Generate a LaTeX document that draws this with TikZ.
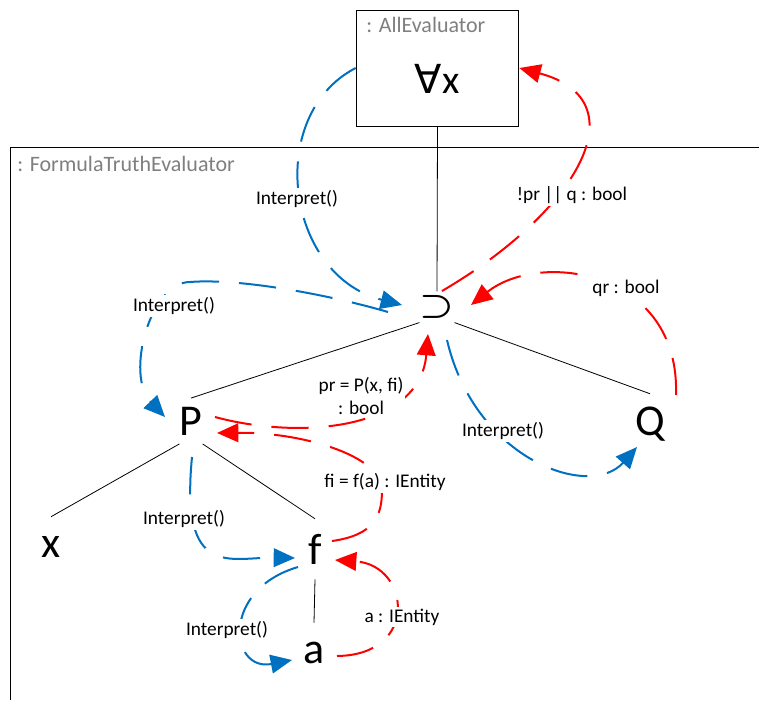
\documentclass[tikz,border=0pt]{standalone}
\usepackage{fontspec}
\setmainfont{Carlito}
\newfontfamily\symfont{DejaVu Sans}
\usetikzlibrary{arrows.meta,calc}
\definecolor{callblue}{RGB}{0,112,192}
\definecolor{objgray}{RGB}{127,127,127}

\begin{document}
\begin{tikzpicture}[x=0.75pt,y=-0.75pt,
    ltr/.style={inner sep=0pt, minimum width=10.5pt, minimum height=45pt, font=\fontsize{33}{33}\selectfont},
    lbl/.style={fill=white, inner sep=1.5pt, align=center, font=\fontsize{14.5}{17}\selectfont},
    obj/.style={text=objgray, inner sep=0pt, anchor=base west, font=\fontsize{16.5}{20}\selectfont},
    tree/.style={line width=0.6pt},
    call/.style={callblue, line width=1.5pt, dash pattern=on 28pt off 15pt, -{Triangle[length=16pt,width=14pt]}},
    ret/.style={call, red}]
    \useasboundingbox (0,0) rectangle (759,700);

    % the two objects
    \draw[tree] (759,147) -- (10,147) -- (10,700);
    \node[obj] (fte) at (17,171) {: FormulaTruthEvaluator};
    \node[draw, line width=0.75pt, inner sep=0pt, minimum width=122pt, minimum height=87pt] (ae) at (437.5,68) {};
    \node[obj] (aename) at (366,32) {: AllEvaluator};
    \node[font=\fontsize{30}{30}\selectfont, inner sep=0pt] (forall) at (437,79) {{\symfont ∀}x};

    % the formula
    \node[ltr, minimum width=15.75pt, minimum height=23pt] (sup) at (437,307) {\resizebox{26pt}{15pt}{\boldmath$\supset$}};
    \node[ltr, minimum height=34pt] (P) at (191,421) {P};
    \node[ltr] (Q) at (650,424) {Q};
    \node[ltr] (x) at (51,547) {x};
    \node[ltr] (f) at (315,549) {f};
    \node[ltr] (a) at (314,653) {a};

    % the tree
    \draw[tree] (ae.south) -- (sup.north);
    \draw[tree] (sup.south west) -- (P.north)
                (sup.south east) -- (Q.north)
                (P.south west) -- (x.north)
                (P.south east) -- (f.north)
                (f.south) -- (a.north);

    % calls
    \draw[call] (ae.west) .. controls (265,115) and (285,275) .. ($(sup)+(-35,-2)$);
    \draw[call] ($(sup)+(-49,5)$) .. controls (330,295) and (240,278) .. (190,282)
                .. controls (150,282) and (125,375) .. ($(P)+(-26,-4)$);
    \draw[call] ($(sup)+(10,33)$) .. controls (475,460) and (590,500) .. ($(Q)+(-13,23)$);
    \draw[call] ($(P)+(1,36)$) .. controls (180,580) and (230,557) .. ($(f)+(-20,9)$);
    \draw[call] ($(f)+(-17,18)$) .. controls (220,590) and (230,672) .. ($(a)+(-22,7)$);

    % returns
    \draw[ret] ($(sup)+(5,-16)$) .. controls (580,210) and (640,100) .. (ae.east);
    \draw[ret] ($(Q)+(26,-29)$) .. controls (680,270) and (540,250) .. ($(sup)+(34,-2)$);
    \draw[ret] ($(P)+(24,-4)$) .. controls (300,440) and (420,430) .. ($(sup)+(-9,27)$);
    \draw[ret] ($(f)+(17,-8)$) .. controls (375,535) and (382,515) .. (382,490)
               .. controls (382,455) and (300,432) .. ($(P)+(26,12)$);
    \draw[ret] ($(a)+(23,3)$) .. controls (420,655) and (410,565) .. ($(f)+(20,11)$);

    % messages
    \node[lbl] (i1) at (297,199) {Interpret()};
    \node[lbl] (i2) at (174,306) {Interpret()};
    \node[lbl] (i3) at (503,431) {Interpret()};
    \node[lbl] (i4) at (184,519) {Interpret()};
    \node[lbl] (i5) at (227,630) {Interpret()};
    \node[lbl] (r1) at (572,195) {!pr || q : bool};
    \node[lbl] (r2) at (626,288) {qr : bool};
    \node[lbl] (r3) at (361,396) {pr = P(x, fi)\\: bool};
    \node[lbl] (r4) at (385,482) {fi = f(a) : IEntity};
    \node[lbl] (r5) at (402,617) {a : IEntity};
\end{tikzpicture}
\end{document}
